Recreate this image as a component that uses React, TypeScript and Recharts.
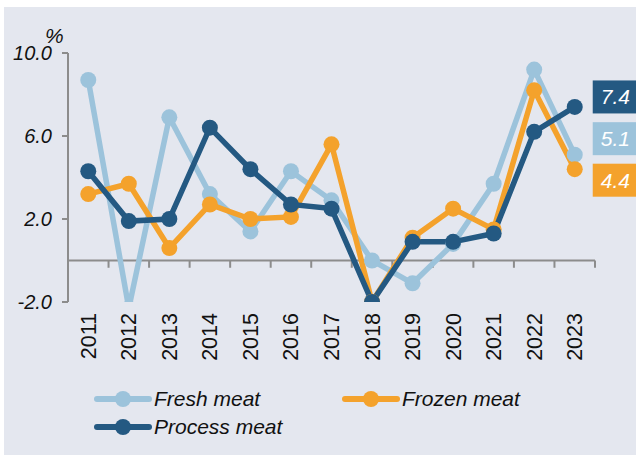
import { LineChart, Line, XAxis, YAxis, ReferenceLine } from 'recharts'

const years = ['2011', '2012', '2013', '2014', '2015', '2016', '2017', '2018', '2019', '2020', '2021', '2022', '2023']
const freshMeat = [8.7, -2.3, 6.9, 3.2, 1.4, 4.3, 2.9, 0.0, -1.1, 0.8, 3.7, 9.2, 5.1]
const frozenMeat = [3.2, 3.7, 0.6, 2.7, 2.0, 2.1, 5.6, -2.0, 1.1, 2.5, 1.5, 8.2, 4.4]
const processMeat = [4.3, 1.9, 2.0, 6.4, 4.4, 2.7, 2.5, -2.0, 0.9, 0.9, 1.3, 6.2, 7.4]
const yTicks = [-2, 2, 6, 10]

const FONT = '"Liberation Sans", Arial, sans-serif'
const GREY = '#8c8c8c'
const LIGHT = '#9cc3db'
const ORANGE = '#f4a22c'
const DARK = '#245982'

const data = years.map((y, i) => ({
  x: i + 0.5,
  year: y,
  fresh: freshMeat[i],
  frozen: frozenMeat[i],
  process: processMeat[i],
}))
const xTicks = data.map(d => d.x)
const boundaries = years.map((_, i) => i + 1)

const series = [
  { key: 'process', name: 'Process meat', color: DARK },
  { key: 'fresh', name: 'Fresh meat', color: LIGHT },
  { key: 'frozen', name: 'Frozen meat', color: ORANGE },
]

// value box next to the last point of each line
function endLabel(color: string, dy: number) {
  return (props: any) => {
    const { x, y, value, index } = props
    if (index !== years.length - 1) return null
    const bx = x + 18
    const cy = y + dy
    return (
      <g>
        <rect x={bx} y={cy - 16.5} width={44} height={33} fill={color} />
        <text x={bx + 8} y={cy + 7.5} fill="#fff" fontSize={21} fontStyle="italic" fontFamily={FONT}>
          {value.toFixed(1)}
        </text>
      </g>
    )
  }
}

function LegendBox() {
  const item = (s: typeof series[number]) => (
    <div key={s.key} style={{ display: 'flex', alignItems: 'center', height: 28 }}>
      <svg width={58} height={18}>
        <line x1={3} y1={9} x2={55} y2={9} stroke={s.color} strokeWidth={6} strokeLinecap="round" />
        <circle cx={29} cy={9} r={8} fill={s.color} />
      </svg>
      <span style={{ marginLeft: 2, fontSize: 21, fontStyle: 'italic', color: '#111', fontFamily: FONT }}>{s.name}</span>
    </div>
  )
  return (
    <div style={{ fontFamily: FONT }}>
      <div style={{ display: 'flex' }}>
        <div style={{ width: 248 }}>{item(series[1])}</div>
        {item(series[2])}
      </div>
      {item(series[0])}
    </div>
  )
}

export default function App() {
  return (
    <div style={{ position: 'fixed', left: 0, top: 0, width: 636, height: 459, background: '#fff' }}>
      <div style={{ position: 'absolute', left: 4, top: 7, width: 632, height: 448, background: '#e4e7ef' }} />
      <div style={{ position: 'absolute', left: 45, top: 24, fontSize: 21, fontStyle: 'italic', fontFamily: FONT, color: '#111' }}>%</div>
      <div style={{ position: 'absolute', left: 0, top: 0 }}>
        <LineChart width={636} height={459} data={data} margin={{ top: 53, right: 41, bottom: 77, left: 0 }}>
          <XAxis
            dataKey="x"
            type="number"
            domain={[0, 13]}
            ticks={xTicks}
            interval={0}
            height={80}
            axisLine={false}
            tickLine={false}
            tick={(p: any) => (
              <text
                x={p.x}
                y={p.y}
                transform={`rotate(-90 ${p.x} ${p.y})`}
                textAnchor="end"
                dx={-3}
                dy={7.5}
                fontSize={21.5}
                fontFamily={FONT}
                fill="#111"
              >
                {years[p.index]}
              </text>
            )}
          />
          <YAxis
            type="number"
            domain={[-2, 10]}
            ticks={yTicks}
            allowDataOverflow
            width={68}
            stroke={GREY}
            strokeWidth={2}
            tickSize={6}
            tickMargin={10}
            tickFormatter={(v: number) => v.toFixed(1)}
            tick={{ fill: '#111', fontSize: 20, fontStyle: 'italic', fontFamily: FONT }}
          />
          <ReferenceLine y={0} stroke={GREY} strokeWidth={2} />
          {boundaries.map(b => (
            <ReferenceLine
              key={b}
              segment={[{ x: b, y: 0 }, { x: b, y: -0.35 }]}
              stroke={GREY}
              strokeWidth={2}
            />
          ))}
          <Line
            dataKey="fresh"
            stroke={LIGHT}
            strokeWidth={5.5}
            dot={{ r: 8, fill: LIGHT, stroke: LIGHT, strokeWidth: 0 }}
            isAnimationActive={false}
            label={endLabel(LIGHT, -16)}
          />
          <Line
            dataKey="frozen"
            stroke={ORANGE}
            strokeWidth={5.5}
            dot={{ r: 8, fill: ORANGE, stroke: ORANGE, strokeWidth: 0 }}
            isAnimationActive={false}
            label={endLabel(ORANGE, 11)}
          />
          <Line
            dataKey="process"
            stroke={DARK}
            strokeWidth={5.5}
            dot={{ r: 8, fill: DARK, stroke: DARK, strokeWidth: 0 }}
            isAnimationActive={false}
            label={endLabel(DARK, -10)}
          />
        </LineChart>
      </div>
      <div style={{ position: 'absolute', left: 94, top: 385 }}>
        <LegendBox />
      </div>
    </div>
  )
}
